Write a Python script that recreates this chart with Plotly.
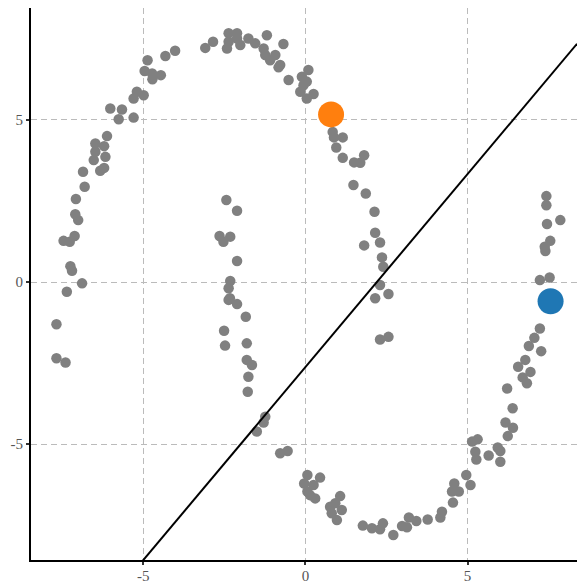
import plotly.graph_objects as go

# gray data points (x, y)
points_x = [
    -4.87, -4.96, -4.73, -4.46, -4.72, -4.32, -4.02, -3.09, -2.85, -5.20, -5.30, -4.99,
    -6.02, -5.66, -5.76, -5.30, -6.12, -6.48, -6.21, -6.48, -6.17, -6.53, -6.33, -6.21,
    -6.86, -6.81, -7.08, -7.10, -7.01, -7.46, -7.27, -7.12, -7.25, -7.20, -6.89, -7.36,
    -7.68, -7.68, -7.40,
    -2.37, -2.11, -2.37, -2.42, -2.01, -2.11, -1.76, -1.55, -1.19, -1.29, -1.24, -0.93,
    -1.09, -0.78, -0.83, -0.68, -0.52, -0.11, 0.09, 0.04, -0.06, -0.16, 0.04, 0.25,
    0.84, 0.88, 1.15, 0.95, 1.15, 1.50, 1.69, 1.81, 1.48, 1.86, 2.13, 2.15, 2.30, 1.81,
    2.36, 2.40, 2.30, 2.56, 2.15, 2.30, 2.56,
    -2.44, -2.11, -2.65, -2.53, -2.32, -2.11, -2.32, -2.37, -2.33, -2.37, -2.11, -1.84,
    -2.51, -2.48, -1.81, -1.81, -1.65, -1.76, -1.78, -1.24, -1.29, -1.50, -0.78, -0.55,
    0.06, 0.45, -0.04, 0.25, 0.06, 0.14, 0.30, 0.76, 0.92, 1.07, 1.12, 0.81, 0.97,
    1.77, 2.05, 2.30, 2.39, 2.71,
    7.23, 7.06, 6.89, 7.27, 6.78, 6.56, 6.94, 6.70, 6.83, 6.22, 6.39, 6.17, 6.40, 6.24,
    5.14, 5.31, 5.24, 5.27, 5.65, 5.93, 6.01, 6.01, 4.96, 5.09, 4.59, 4.52, 4.73, 4.55,
    4.21, 4.16, 3.77, 3.42, 3.19, 3.13, 2.98,
    7.43, 7.43, 7.45, 7.86, 7.55, 7.38, 7.40, 7.23, 7.53,
]
points_y = [
    6.84, 6.51, 6.43, 6.38, 6.25, 6.97, 7.13, 7.22, 7.41, 5.87, 5.66, 5.76,
    5.35, 5.32, 5.02, 5.07, 4.50, 4.27, 4.19, 4.02, 3.86, 3.76, 3.43, 3.52,
    3.40, 2.94, 2.56, 2.09, 1.91, 1.27, 1.24, 1.42, 0.49, 0.35, -0.04, -0.30,
    -1.30, -2.35, -2.48,
    7.67, 7.67, 7.41, 7.20, 7.31, 7.51, 7.51, 7.36, 7.61, 7.20, 7.00, 7.00,
    6.84, 6.69, 6.62, 7.34, 6.23, 6.33, 6.54, 6.18, 6.07, 5.87, 5.66, 5.80,
    4.63, 4.46, 4.46, 4.15, 3.83, 3.69, 3.68, 3.91, 2.99, 2.73, 2.17, 1.52, 1.22, 1.13,
    0.76, 0.47, -0.09, -0.37, -0.50, -1.77, -1.69,
    2.53, 2.20, 1.42, 1.24, 1.40, 0.65, 0.03, -0.19, -0.50, -0.55, -0.68, -1.07,
    -1.50, -1.96, -1.89, -2.40, -2.56, -2.92, -3.38, -4.15, -4.33, -4.61, -5.28, -5.21,
    -5.95, -6.03, -6.21, -6.26, -6.46, -6.57, -6.67, -6.93, -6.82, -6.60, -7.03, -7.13, -7.34,
    -7.51, -7.59, -7.62, -7.44, -7.80,
    -1.43, -1.72, -1.97, -2.13, -2.40, -2.61, -2.77, -2.94, -3.12, -3.28, -3.89, -4.33, -4.49, -4.75,
    -4.92, -4.85, -5.23, -5.47, -5.35, -5.10, -5.21, -5.54, -5.95, -6.26, -6.21, -6.46, -6.46, -6.80,
    -7.08, -7.26, -7.32, -7.37, -7.26, -7.56, -7.52,
    2.65, 2.37, 1.79, 1.91, 1.27, 1.09, 0.96, 0.06, 0.14,
]

# centroids
centroid_x = [0.79, 7.56]
centroid_y = [5.17, -0.59]
centroid_colors = ["#ff7f0e", "#1f77b4"]

# separating line y = slope * x + intercept
boundary_slope = 1.19
boundary_intercept = -2.62

x_range = [-8.465, 8.375]
y_range = [-8.57, 8.45]
tick_vals = [-5, 0, 5]
tick_text = ["-5", "0", "5"]

line_x = x_range
line_y = [boundary_slope * xv + boundary_intercept for xv in line_x]

fig = go.Figure()
fig.add_trace(go.Scatter(
    x=points_x, y=points_y, mode="markers",
    marker=dict(color="#808080", size=10.5, line=dict(width=0)),
    showlegend=False, hoverinfo="skip",
))
fig.add_trace(go.Scatter(
    x=line_x, y=line_y, mode="lines",
    line=dict(color="black", width=2),
    showlegend=False, hoverinfo="skip",
))
fig.add_trace(go.Scatter(
    x=centroid_x, y=centroid_y, mode="markers",
    marker=dict(color=centroid_colors, size=26, line=dict(width=0)),
    showlegend=False, hoverinfo="skip",
))

axis_common = dict(
    showgrid=True, gridcolor="#bbbbbb", gridwidth=1, griddash="6px,4px",
    zeroline=False, showline=True, linecolor="black", linewidth=2,
    ticks="outside", ticklen=3, tickwidth=2, tickcolor="#333333",
    tickvals=tick_vals, ticktext=tick_text,
    tickfont=dict(family="Liberation Serif, DejaVu Serif, serif", size=15, color="#555555"),
    mirror=False, automargin=False,
)
fig.update_layout(
    width=577, height=584,
    margin=dict(l=31, r=0, t=8, b=24),
    plot_bgcolor="white", paper_bgcolor="white",
    xaxis=dict(range=x_range, ticklabelstandoff=-2, **axis_common),
    yaxis=dict(range=y_range, **axis_common),
)
fig.write_html(
    "out.html",
    config={"displayModeBar": False},
    post_script="document.body.style.margin='0';document.documentElement.style.overflow='hidden';document.body.style.overflow='hidden';",
)
